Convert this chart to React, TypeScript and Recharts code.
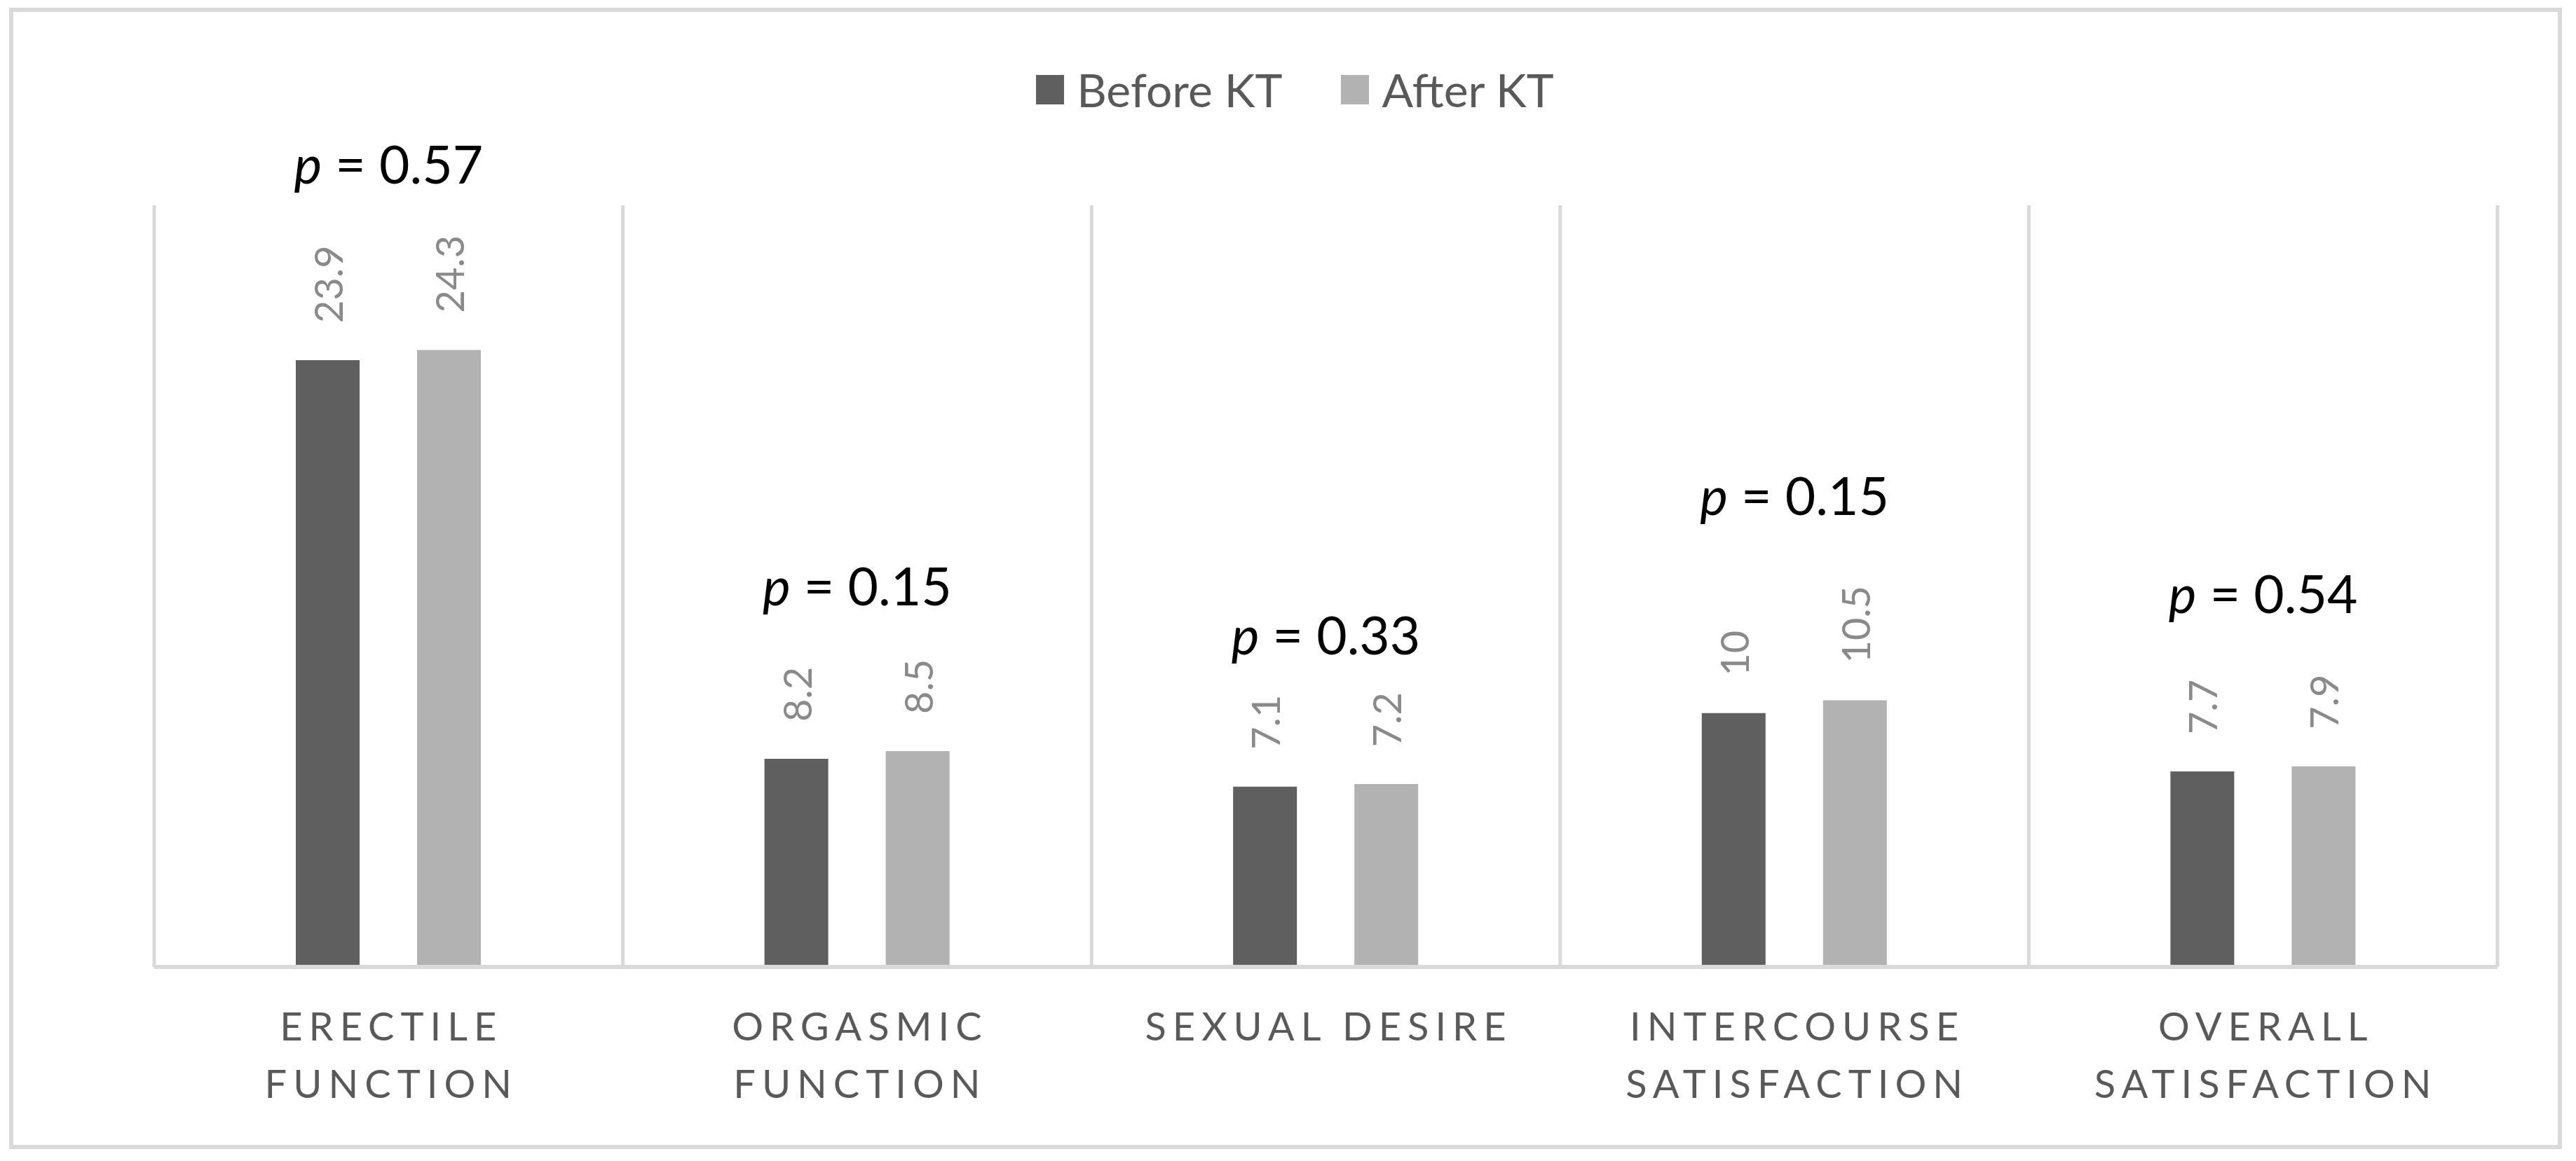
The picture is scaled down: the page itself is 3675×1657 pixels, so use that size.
import React from "react";
import {
  BarChart,
  Bar,
  XAxis,
  YAxis,
  CartesianGrid,
  Legend,
  LabelList,
  ReferenceDot,
} from "recharts";

const categories = [
  "Erectile function",
  "Orgasmic function",
  "Sexual desire",
  "Intercourse satisfaction",
  "Overall satisfaction",
];
const categoryLines = [
  ["ERECTILE", "FUNCTION"],
  ["ORGASMIC", "FUNCTION"],
  ["SEXUAL DESIRE"],
  ["INTERCOURSE", "SATISFACTION"],
  ["OVERALL", "SATISFACTION"],
];
const seriesNames = ["Before KT", "After KT"];
const beforeKT = [23.9, 8.2, 7.1, 10, 7.7];
const afterKT = [24.3, 8.5, 7.2, 10.5, 7.9];
const pValues = ["0.57", "0.15", "0.33", "0.15", "0.54"];
// baseline height of each p-value annotation, in score units
const pLabelLevel = [30.86, 14.24, 12.31, 17.8, 13.94];

const data = categories.map((c, i) => ({
  category: c,
  before: beforeKT[i],
  after: afterKT[i],
}));

const FONT = "Lato, 'Noto Sans', sans-serif";
const GRID = "#d9d9d9";
const TEXT_GRAY = "#595959";
const DARK = "#5f5f5f";
const LIGHT = "#b2b2b2";

const W = 3675;
const H = 1657;

const CategoryTick = (props: any) => {
  const { x, y, payload } = props;
  const lines = categoryLines[payload.index] || [String(payload.value)];
  return (
    <g>
      {lines.map((ln: string, i: number) => (
        <text
          key={i}
          x={x + 4}
          y={y + 105 + i * 82}
          textAnchor="middle"
          fill={TEXT_GRAY}
          fontFamily={FONT}
          fontSize={56}
          letterSpacing={9}
        >
          {ln}
        </text>
      ))}
    </g>
  );
};

const ValueLabel = (props: any) => {
  const { x, y, width, value } = props;
  const cx = x + width / 2;
  const ty = y - 53;
  return (
    <text
      x={cx}
      y={ty}
      transform={`rotate(-90, ${cx}, ${ty})`}
      textAnchor="start"
      dominantBaseline="central"
      fill="#8a8a8a"
      fontFamily={FONT}
      fontSize={56}
    >
      {value}
    </text>
  );
};

const YLabel = (props: any) => {
  const vb = props.viewBox || {};
  const cx = vb.x - 54;
  const cy = vb.y + vb.height / 2;
  return (
    <text
      x={cx}
      y={cy}
      transform={`rotate(-90, ${cx}, ${cy})`}
      textAnchor="middle"
      dominantBaseline="central"
      fill={TEXT_GRAY}
      fontFamily={FONT}
      fontSize={64}
    >
      IIEF SCORE
    </text>
  );
};

const makePLabel = (p: string) => (props: any) => {
  const vb = props.viewBox || {};
  const cx = vb.x + (vb.width || 0) / 2;
  const cy = vb.y + (vb.height || 0) / 2;
  return (
    <text
      x={cx}
      y={cy}
      textAnchor="middle"
      fill="#000"
      fontFamily={FONT}
      fontSize={75}
    >
      <tspan fontStyle="italic">p</tspan>
      <tspan>{` = ${p}`}</tspan>
    </text>
  );
};

const LegendContent = (props: any) => {
  const payload = [...(props.payload || [])].sort(
    (a: any, b: any) => seriesNames.indexOf(a.value) - seriesNames.indexOf(b.value)
  );
  return (
    <div
      style={{
        display: "flex",
        justifyContent: "center",
        alignItems: "center",
        height: 80,
        fontFamily: FONT,
        fontSize: 66,
        lineHeight: "80px",
        color: TEXT_GRAY,
      }}
    >
      {payload.map((entry: any, i: number) => (
        <div
          key={i}
          style={{
            display: "flex",
            alignItems: "center",
            marginRight: i < payload.length - 1 ? 84 : 0,
          }}
        >
          <div
            style={{
              width: 40,
              height: 42,
              background: entry.color,
              marginRight: 18,
            }}
          />
          <span>{entry.value}</span>
        </div>
      ))}
    </div>
  );
};

export default function App() {
  return (
    <div
      style={{
        position: "absolute",
        left: 0,
        top: 0,
        width: W,
        height: H,
        background: "#fff",
      }}
    >
      <div
        style={{
          position: "absolute",
          left: 13,
          top: 11,
          width: 3642,
          height: 1629,
          border: `6px solid ${GRID}`,
          boxSizing: "border-box",
        }}
      />
      <div style={{ position: "absolute", left: 0, top: 0 }}>
        <BarChart
          width={W}
          height={H}
          data={data}
          margin={{ top: 213, right: 112, bottom: 77, left: 220 }}
          barSize={91}
          barGap={82}
        >
          <CartesianGrid
            horizontal={false}
            stroke={GRID}
            strokeWidth={5}
            verticalCoordinatesGenerator={({ offset }: any) =>
              categories
                .map((_, i) => offset.left + (i * offset.width) / categories.length)
                .concat([offset.left + offset.width])
            }
          />
          <XAxis
            dataKey="category"
            height={200}
            tickLine={false}
            tickSize={0}
            tickMargin={0}
            interval={0}
            axisLine={{ stroke: GRID, strokeWidth: 6 }}
            tick={<CategoryTick />}
          />
          <YAxis
            width={0}
            domain={[0, 30]}
            tick={false}
            tickLine={false}
            axisLine={false}
            label={YLabel}
          />
          <Legend
            verticalAlign="top"
            align="center"
            content={<LegendContent />}
            wrapperStyle={{ top: 88, left: 30, width: 3635, height: 80 }}
          />
          <Bar
            dataKey="before"
            name={seriesNames[0]}
            fill={DARK}
            isAnimationActive={false}
          >
            <LabelList dataKey="before" content={<ValueLabel />} />
          </Bar>
          <Bar
            dataKey="after"
            name={seriesNames[1]}
            fill={LIGHT}
            isAnimationActive={false}
          >
            <LabelList dataKey="after" content={<ValueLabel />} />
          </Bar>
          {categories.map((c, i) => (
            <ReferenceDot
              key={c}
              x={c}
              y={pLabelLevel[i]}
              r={1}
              fill="none"
              stroke="none"
              ifOverflow="visible"
              label={makePLabel(pValues[i])}
            />
          ))}
        </BarChart>
      </div>
    </div>
  );
}
